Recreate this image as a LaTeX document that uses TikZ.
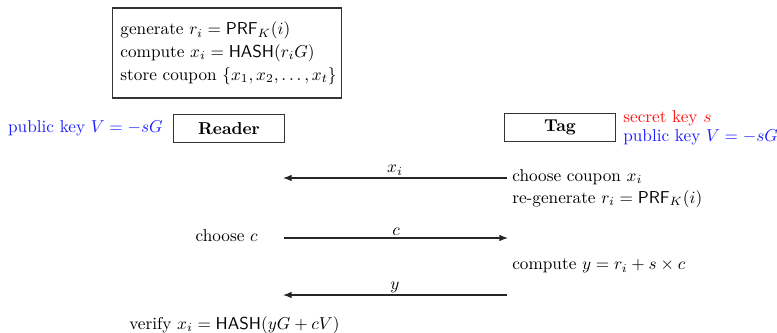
\documentclass[tikz,border=0pt]{standalone}
\usepackage{amsmath}
\usetikzlibrary{arrows.meta}
\definecolor{keyblue}{RGB}{30,30,255}
\definecolor{keyred}{RGB}{255,20,20}
\begin{document}
\begin{tikzpicture}[x=0.581pt,y=-0.581pt,
  box/.style={draw=black!80, line width=0.6pt},
  party/.style={box, minimum width=64pt, minimum height=16.8pt, inner sep=0pt, font=\bfseries},
  msg/.style={draw=black!85, line width=0.65pt, -{Latex[length=5pt,width=3.8pt]}},
  lbl/.style={above, inner sep=1.2pt},
  txt/.style={inner sep=0pt, anchor=west}]
\useasboundingbox (0,0) rectangle (777,333);
\node[box, minimum width=132.5pt, minimum height=52.3pt, inner sep=0pt] (prepbox) at (227,53) {};
\node[align=left, inner sep=0pt] (prep) at (228.5,53)
  {generate $r_i=\mathsf{PRF}_K(i)$\\[1.2pt] compute $x_i=\mathsf{HASH}(r_iG)$\\[1.2pt] store coupon $\{x_1,x_2,\ldots,x_t\}$};
\node[party] (reader) at (229,128.5) {Reader};
\node[party] (tag) at (560,127.5) {Tag};
\node[txt, anchor=east, text=keyblue] (pkR) at (163,128) {public key $V=-sG$};
\node[txt, align=left] (keysT) at (623,127.5)
  {{\color{keyred}secret key $s$}\\[-1pt]{\color{keyblue}public key $V=-sG$}};
\coordinate (m1a) at (507,178);
\coordinate (m1b) at (283,178);
\coordinate (m2a) at (284,238);
\coordinate (m2b) at (508,238);
\coordinate (m3a) at (507,295);
\coordinate (m3b) at (283,295);
\draw[msg] (m1a) -- node[lbl] (l1) {$x_i$} (m1b);
\draw[msg] (m2a) -- node[lbl] (l2) {$c$} (m2b);
\draw[msg] (m3a) -- node[lbl] (l3) {$y$} (m3b);
\node[txt] (t1) at (512,177) {choose coupon $x_i$};
\node[txt] (t2) at (512,199) {re-generate $r_i=\mathsf{PRF}_K(i)$};
\node[txt, anchor=east] (r1) at (258,236) {choose $c$};
\node[txt] (t3) at (512,266) {compute $y=r_i+s\times c$};
\node[txt] (r2) at (129,325) {verify $x_i=\mathsf{HASH}(yG+cV)$};
\end{tikzpicture}
\end{document}
